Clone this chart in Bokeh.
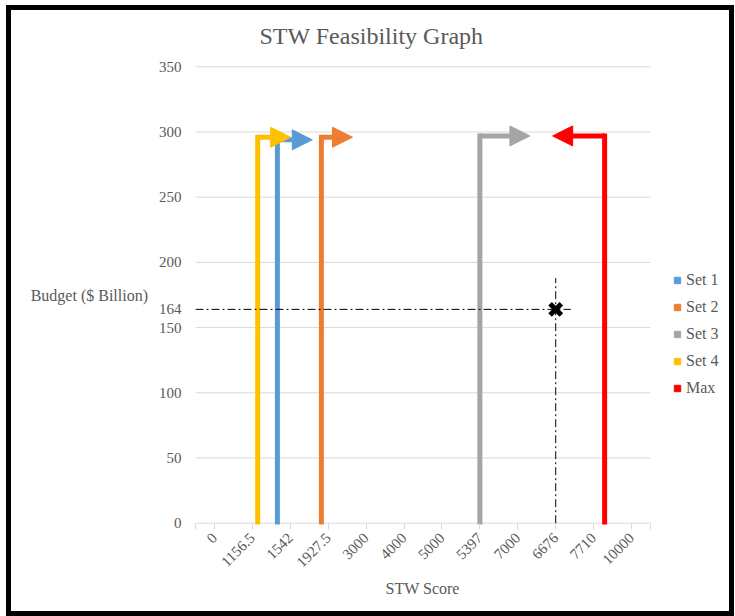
import math

from bokeh.embed import file_html
from bokeh.models import (Arrow, FixedTicker, Legend, LegendItem, NormalHead,
                          Range1d, Title)
from bokeh.plotting import figure
from bokeh.resources import INLINE

# ---- data -------------------------------------------------------------
stw_ticks = ["0", "1156.5", "1542", "1927.5", "3000", "4000", "5000",
             "5397", "7000", "6676", "7710", "10000"]
budget_ticks = [0, 50, 100, 150, 200, 250, 300, 350]

series_names = ["Set 1", "Set 2", "Set 3", "Set 4", "Max"]
series_score = ["1542", "1927.5", "5397", "1156.5", "7710"]
series_budget = [294, 296, 297, 296, 297]
series_colors = ["#5B9BD5", "#ED7D31", "#A5A5A5", "#FFC000", "#FF0000"]

target_score = "6676"
target_budget = 164

# ---- styling ----------------------------------------------------------
FONT = "Liberation Serif"
TEXT = "#595959"
GRID = "#D9D9D9"
# sideways shift of each upright from its category centre, and how far its
# arrow reaches (both in category widths; negative reach points left)
nudge = [-0.34, -0.18, 0.0, 0.14, 0.29]
reach = [0.92, 0.82, 1.32, 0.87, -1.37]

n_cat = len(stw_ticks)
# the plotting frame runs on past the last category so the legend can sit
# to the right of the category axis (455 px of categories, 540 px frame)
x_end = n_cat * 540 / 455


def cat_x(label):
    return stw_ticks.index(label) + 0.5


p = figure(width=735, height=616, output_backend="svg", toolbar_location=None,
           x_range=Range1d(0, x_end), y_range=Range1d(-1, 351),
           min_border_left=195, min_border_right=0, min_border_top=65,
           min_border_bottom=92, title="STW Feasibility Graph")
p.outline_line_color = None
p.background_fill_color = "white"
p.border_fill_color = "white"
# black frame drawn around the whole chart
p.stylesheets = [""":host { position: relative; }
:host::after {
  content: ""; position: absolute; left: 6px; top: 5px; right: 1px;
  bottom: 0px; border: 5px solid black; pointer-events: none; z-index: 50;
}"""]

p.title.align = "left"
p.title.offset = 64
p.title.standoff = 33
p.title.text_font = FONT
p.title.text_font_size = "24px"
p.title.text_font_style = "normal"
p.title.text_color = TEXT

# x axis: category labels at the centres, plus end ticks
xticks = [0] + [i + 0.5 for i in range(n_cat)] + [n_cat]
overrides = {i + 0.5: lab for i, lab in enumerate(stw_ticks)}
overrides[0] = ""
overrides[n_cat] = ""
p.xaxis.ticker = FixedTicker(ticks=xticks)
p.xaxis.major_label_overrides = overrides
p.xaxis.major_label_orientation = math.pi / 4
p.xaxis.axis_line_color = None
p.xaxis.major_tick_line_color = GRID
p.xaxis.major_tick_in = 1
p.xaxis.major_tick_out = 5
p.xaxis.minor_tick_line_color = None
p.xaxis.major_label_standoff = 6
p.xgrid.visible = False
p.add_layout(Title(text="STW Score", align="left", offset=190, standoff=7,
                   text_font=FONT, text_font_size="16px",
                   text_font_style="normal", text_color=TEXT), "below")

# y axis: regular ticks plus the budget of interest
p.yaxis.ticker = FixedTicker(ticks=sorted(budget_ticks + [target_budget]))
p.yaxis.axis_line_color = None
p.yaxis.major_tick_line_color = None
p.yaxis.minor_tick_line_color = None
p.yaxis.major_tick_out = 0
p.yaxis.major_label_standoff = 14
p.yaxis.axis_label = "Budget ($ Billion)"
p.yaxis.axis_label_orientation = "horizontal"
p.yaxis.axis_label_standoff = 8
p.ygrid.visible = False

for ax in (p.xaxis, p.yaxis):
    ax.major_label_text_font = FONT
    ax.major_label_text_font_size = "15px"
    ax.major_label_text_color = TEXT
    ax.axis_label_text_font = FONT
    ax.axis_label_text_font_size = "16px"
    ax.axis_label_text_font_style = "normal"
    ax.axis_label_text_color = TEXT

# horizontal gridlines (the one at 0 doubles as the category axis line)
p.segment(x0=[0] * len(budget_ticks), x1=[n_cat] * len(budget_ticks),
          y0=budget_ticks, y1=budget_ticks, line_color=GRID, line_width=1)

# ---- feasibility arrows ----------------------------------------------
legend_items = []
for name, score, top, color, dx, r in zip(series_names, series_score,
                                          series_budget, series_colors,
                                          nudge, reach):
    x = cat_x(score) + dx
    p.line([x, x], [0, top], line_color=color, line_width=5,
           line_cap="square")
    p.add_layout(Arrow(x_start=x, y_start=top, x_end=x + r, y_end=top,
                       line_color=color, line_width=5,
                       end=NormalHead(size=20, fill_color=color,
                                      line_color=color, line_width=1)))
    # zero-size marker: only its legend swatch is seen
    swatch = p.scatter([x], [top], marker="square", size=0,
                       fill_color=color, line_color=color)
    legend_items.append(LegendItem(label=name, renderers=[swatch]))

# ---- budget / score crosshair ------------------------------------------
tx = cat_x(target_score)
p.line([0, tx + 0.4], [target_budget, target_budget], line_color="black",
       line_width=1, line_dash="8 3 2 3")
p.line([tx, tx], [0, 188], line_color="black", line_width=1,
       line_dash="8 3 2 3")
p.scatter([tx], [target_budget], marker="x", size=16, line_width=5,
          line_color="black")

legend = Legend(items=legend_items, location=(474, 126), padding=0, margin=0,
                spacing=6, label_height=21, glyph_width=16, glyph_height=16,
                label_standoff=1, border_line_color=None,
                background_fill_alpha=0, label_text_font=FONT,
                label_text_font_size="16px", label_text_color=TEXT)
p.add_layout(legend, "center")

open("out.html", "w").write(file_html(p, INLINE))
